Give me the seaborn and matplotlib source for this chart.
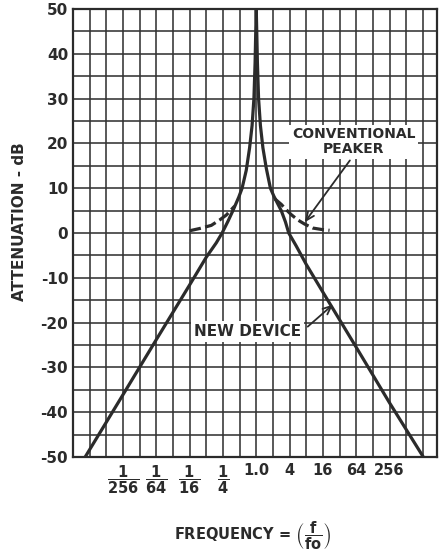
import numpy as np
import pandas as pd
import seaborn as sns
import matplotlib
matplotlib.use("Agg")
import matplotlib.pyplot as plt
from matplotlib.ticker import NullFormatter

# Values; x is in octaves from fo (log2 of f/fo)
NEW_DEVICE_OCT = [-10.27, -8.0, -6.0, -4.0, -3.0, -2.4, -2.05, -1.7, -1.4, -1.05,
                  -0.85, -0.6, -0.4, -0.25, -0.14, -0.07, -0.03, 0.0,
                  0.03, 0.07, 0.14, 0.25, 0.4, 0.6, 0.85, 1.06, 1.5, 1.75, 1.95,
                  2.4, 3.0, 4.0, 6.0, 8.0, 10.03]
NEW_DEVICE_DB = [-50.0, -36.1, -23.8, -11.6, -5.4, -2.2, 0.0, 2.6, 5.0, 8.0,
                 10.0, 14.0, 19.0, 24.0, 30.0, 38.0, 45.0, 50.0,
                 45.0, 38.0, 30.0, 24.0, 19.0, 14.5, 10.0, 8.2, 5.0, 2.5, 0.0,
                 -2.9, -7.0, -13.2, -25.5, -37.9, -50.0]

PEAKER_LEFT_OCT = [-4.0, -3.4, -2.7, -2.2, -1.8, -1.5, -1.3]
PEAKER_LEFT_DB = [0.5, 1.0, 1.7, 2.9, 4.0, 5.2, 6.0]
PEAKER_RIGHT_OCT = [1.12, 1.5, 1.8, 2.1, 2.5, 2.9, 3.4, 3.9, 4.4]
PEAKER_RIGHT_DB = [7.6, 6.4, 5.2, 4.1, 2.9, 2.0, 1.1, 0.8, 0.6]

Y_TICKS = [50, 40, 30, 20, 10, 0, -10, -20, -30, -40, -50]
Y_TICK_LABELS = ["50", "40", "30", "20", "10", "0", "-10", "-20", "-30", "-40", "-50"]
X_TICK_OCT = [-8, -6, -4, -2, 0, 2, 4, 6, 8]
X_TICK_LABELS = [r"$\dfrac{1}{256}$", r"$\dfrac{1}{64}$", r"$\dfrac{1}{16}$",
                 r"$\dfrac{1}{4}$", "1.0", "4", "16", "64", "256"]

INK = "#2b2b2b"

sns.set_theme(style="white")
plt.rcParams["font.family"] = ["DejaVu Sans"]
plt.rcParams["mathtext.fontset"] = "dejavusans"
plt.rcParams["mathtext.default"] = "bf"

new_df = pd.DataFrame({"ratio": 2.0 ** np.array(NEW_DEVICE_OCT), "db": NEW_DEVICE_DB})
peak_l = pd.DataFrame({"ratio": 2.0 ** np.array(PEAKER_LEFT_OCT), "db": PEAKER_LEFT_DB})
peak_r = pd.DataFrame({"ratio": 2.0 ** np.array(PEAKER_RIGHT_OCT), "db": PEAKER_RIGHT_DB})

fig = plt.figure(figsize=(4.43, 5.56), dpi=100)
ax = fig.add_axes([73 / 443, 99 / 556, 364 / 443, 448 / 556])

ax.set_xscale("log", base=2)

sns.lineplot(data=new_df, x="ratio", y="db", ax=ax, color=INK, lw=2.3,
             sort=False, estimator=None, zorder=4)
for d in (peak_l, peak_r):
    sns.lineplot(data=d, x="ratio", y="db", ax=ax, color=INK, lw=2.3,
                 sort=False, estimator=None, dashes=False, zorder=4,
                 ).lines[-1].set_dashes((3.6, 1.4))

ax.set_xlim(2.0 ** -11, 2.0 ** 10.85)
ax.set_ylim(-50, 50)

# grid: every octave, every 5 dB
ax.set_xticks(2.0 ** np.array(X_TICK_OCT, dtype=float))
ax.set_xticklabels(X_TICK_LABELS, fontsize=10.5, fontweight="bold", color=INK)
ax.set_xticks(2.0 ** np.arange(-10, 11, dtype=float), minor=True)
ax.xaxis.set_minor_formatter(NullFormatter())
ax.set_yticks(Y_TICKS)
ax.set_yticklabels(Y_TICK_LABELS, fontsize=11, fontweight="bold", color=INK)
ax.set_yticks(np.arange(-45, 50, 10), minor=True)
ax.grid(True, which="both", color="#333333", lw=1.15)
ax.set_axisbelow(True)
ax.tick_params(which="both", length=0)
ax.tick_params(axis="x", pad=4.5)
ax.tick_params(axis="y", pad=3.5)
for s in ax.spines.values():
    s.set_color(INK)
    s.set_linewidth(1.6)

ax.set_ylabel("ATTENUATION - dB", fontsize=11, fontweight="bold", color=INK)
ax.yaxis.set_label_coords(-0.126, 0.525)
ax.set_xlabel(r"FREQUENCY = $\left(\dfrac{f}{fo}\right)$", fontsize=10.5,
              fontweight="bold", color=INK)
ax.xaxis.set_label_coords(0.492, -0.14)

box = dict(facecolor="white", edgecolor="none", pad=2)
ax.text(2.0 ** 5.86, 20.4, "CONVENTIONAL\nPEAKER", ha="center", va="center",
        fontsize=10, fontweight="bold", color=INK, linespacing=1.05,
        bbox=box, zorder=5)
ax.text(2.0 ** -0.52, -22.0, "NEW DEVICE", ha="center", va="center",
        fontsize=11, fontweight="bold", color=INK, bbox=box, zorder=5)

arrow = dict(arrowstyle="->,head_length=0.5,head_width=0.22", color=INK, lw=1.3,
             shrinkA=0, shrinkB=0)
ax.annotate("", xy=(2.0 ** 2.91, 2.4), xytext=(2.0 ** 5.62, 16.2),
            arrowprops=arrow, zorder=6)
ax.annotate("", xy=(2.0 ** 4.6, -16.0), xytext=(2.0 ** 3.09, -20.9),
            arrowprops=arrow, zorder=6)

fig.savefig("out.png", dpi=100, facecolor="white")
